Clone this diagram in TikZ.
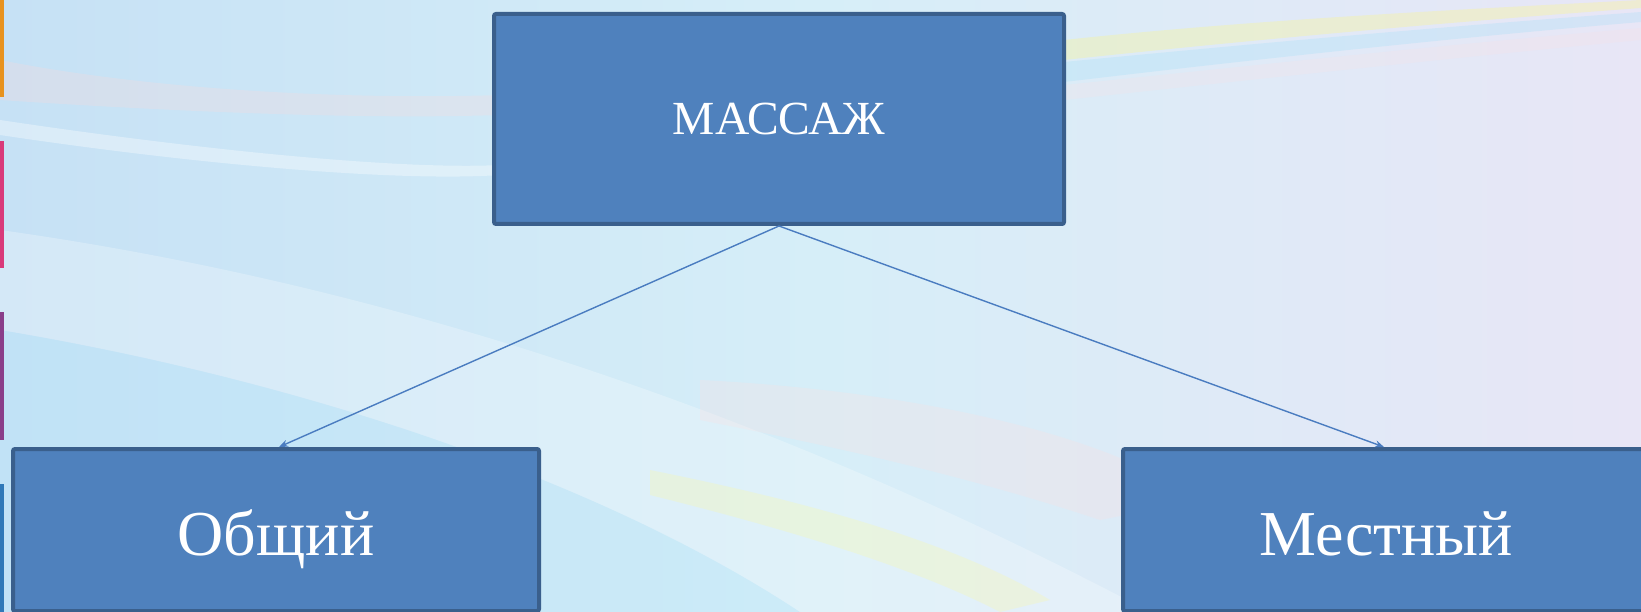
\documentclass[tikz,border=0pt]{standalone}
\usepackage{fontspec}
\setmainfont{Liberation Serif}
\usetikzlibrary{arrows.meta}
\definecolor{bgA}{HTML}{C6E1F5}
\definecolor{bgB}{HTML}{D6EEF8}
\definecolor{bgC}{HTML}{E8E6F6}
\definecolor{boxfill}{HTML}{4F81BD}
\definecolor{boxline}{HTML}{3A5F8C}
\definecolor{connc}{HTML}{4A7CC0}
\definecolor{barO}{HTML}{E8921E}
\definecolor{barP}{HTML}{D93A7A}
\definecolor{barV}{HTML}{8A3E8A}
\definecolor{barB}{HTML}{2F78B8}
\tikzset{
  boxnode/.style={draw=boxline, fill=boxfill, line width=4pt, rounded corners=2pt,
    text=white, inner sep=0pt, align=center},
  conn/.style={draw=connc, line width=1.4pt, -{Stealth[length=9pt,width=7pt]}},
}
\begin{document}
\begin{tikzpicture}[x=1pt,y=-1pt]
\useasboundingbox (0,0) rectangle (1641,612);
\begin{scope}
\clip (0,0) rectangle (1641,612);
% background
\shade[left color=bgA, right color=bgC, middle color=bgB, shading angle=90] (0,0) rectangle (1641,612);
\fill[white, opacity=0.25] (0,230) .. controls (500,300) and (900,480) .. (1150,612) -- (800,612) .. controls (600,480) and (300,380) .. (0,330) -- cycle;
\fill[cyan!30, opacity=0.25] (0,330) .. controls (300,380) and (600,480) .. (800,612) -- (0,612) -- cycle;
\fill[pink!60, opacity=0.25] (0,60) .. controls (150,90) and (350,100) .. (500,95) -- (500,115) .. controls (350,120) and (150,110) .. (0,100) -- cycle;
\fill[white, opacity=0.35] (0,120) .. controls (200,150) and (400,170) .. (500,165) -- (500,175) .. controls (400,182) and (200,165) .. (0,135) -- cycle;
\fill[pink!50, opacity=0.25] (700,380) .. controls (900,390) and (1100,430) .. (1200,500) -- (1100,520) .. controls (950,470) and (800,440) .. (700,420) -- cycle;
\fill[yellow!40, opacity=0.25] (650,470) .. controls (800,500) and (950,540) .. (1050,600) -- (1000,612) .. controls (900,560) and (750,520) .. (650,495) -- cycle;
\fill[yellow!50, opacity=0.3] (1064,40) .. controls (1250,20) and (1450,10) .. (1641,0) -- (1641,8) .. controls (1450,22) and (1250,40) .. (1064,60) -- cycle;
\fill[cyan!40, opacity=0.25] (1064,62) .. controls (1250,44) and (1450,26) .. (1641,12) -- (1641,22) .. controls (1450,38) and (1250,60) .. (1064,82) -- cycle;
\fill[pink!50, opacity=0.2] (1064,85) .. controls (1250,66) and (1450,44) .. (1641,28) -- (1641,40) .. controls (1450,58) and (1250,80) .. (1064,100) -- cycle;
% left bars
\fill[barO] (0,0) rectangle (3.5,97);
\fill[barP] (0,141) rectangle (3.5,268);
\fill[barV] (0,312) rectangle (3.5,440);
\fill[barB] (0,484) rectangle (3.5,612);
% boxes
\node[boxnode, minimum width=570pt, minimum height=210pt, text height=38pt, text depth=6pt,
      font=\fontsize{47.5}{50}\selectfont] (top) at (779,119) {МАССАЖ};
\node[boxnode, minimum width=526pt, minimum height=162pt, text height=54pt, text depth=4pt,
      font=\fontsize{64}{70}\selectfont] (left) at (276,530) {Общий};
\node[boxnode, minimum width=526pt, minimum height=162pt, text height=54pt, text depth=4pt,
      font=\fontsize{64}{70}\selectfont] (right) at (1386,530) {Местный};
% connectors
\draw[conn] (top.south) -- ([xshift=3pt]left.north);
\draw[conn] (top.south) -- ([xshift=-2pt]right.north);
\end{scope}
\end{tikzpicture}
\end{document}
